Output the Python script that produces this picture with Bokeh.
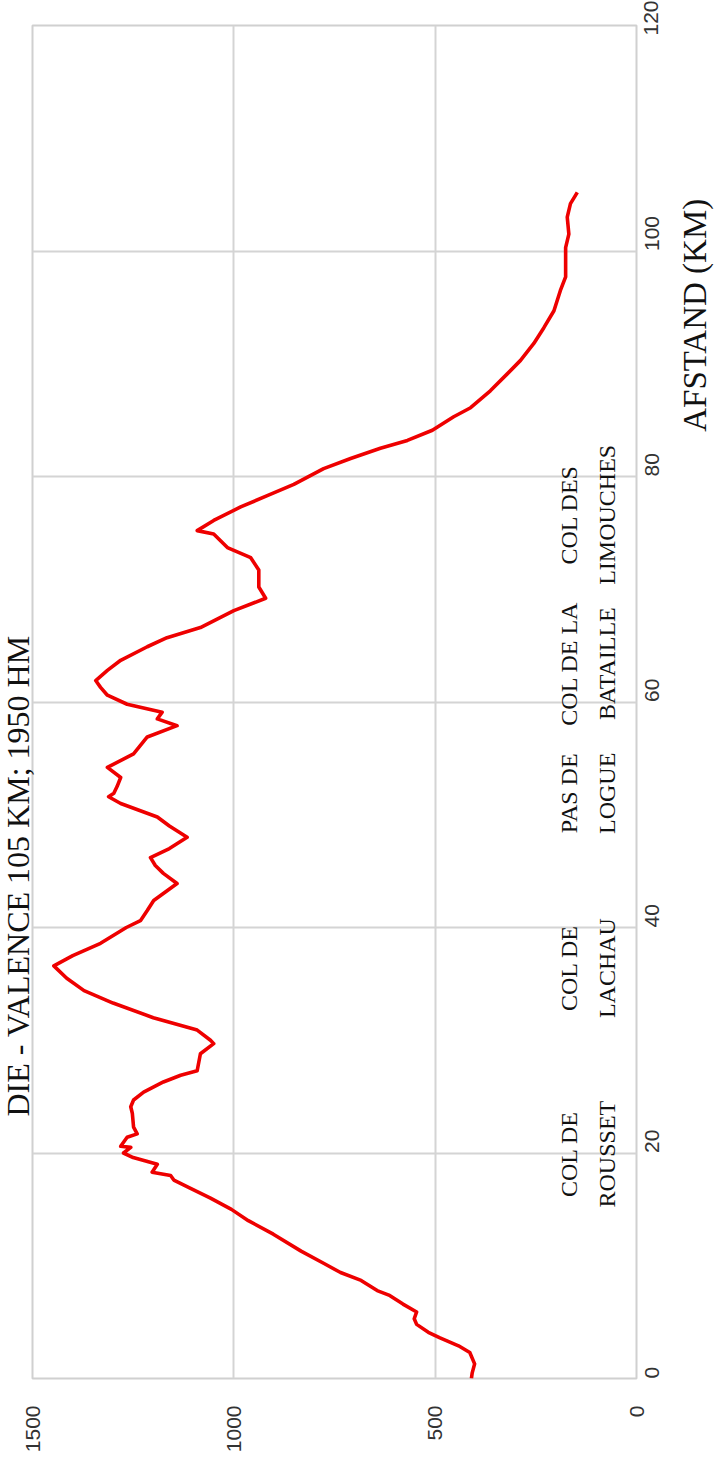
import math
from bokeh.plotting import figure
from bokeh.models import Range1d, Label, FixedTicker
from bokeh.layouts import row
from bokeh.embed import file_html
from bokeh.resources import INLINE

# ---- data ----
distance_km = [0.0, 0.5, 1.3, 2.3, 2.9, 3.6, 4.1, 4.8, 5.3, 5.9,
               6.6, 7.4, 7.8, 8.7, 9.4, 10.2, 11.3, 12.8, 14.0, 15.0,
               16.0, 16.9, 17.6, 18.0, 18.3, 19.0, 19.6, 20.0, 20.5, 20.6,
               21.4, 21.7, 22.3, 23.5, 24.1, 24.7, 25.4, 26.3, 26.9, 27.3,
               28.8, 29.7, 30.0, 30.9, 32.0, 33.3, 34.4, 35.5, 36.6, 37.5,
               38.6, 40.0, 40.6, 41.5, 42.4, 43.9, 44.8, 45.5, 46.2, 47.0,
               48.0, 49.0, 49.8, 51.0, 51.6, 51.9, 52.5, 53.3, 54.2, 55.4,
               56.9, 57.9, 58.5, 59.1, 59.8, 60.6, 61.3, 61.9, 62.8, 63.7,
               64.9, 65.7, 66.6, 68.1, 69.2, 70.2, 71.7, 72.8, 73.7, 74.9,
               75.2, 76.1, 77.3, 78.3, 79.3, 80.7, 81.6, 82.5, 83.2, 84.1,
               85.3, 86.1, 87.6, 89.1, 90.3, 91.8, 93.2, 94.7, 96.5, 97.7,
               100.3, 101.5, 103.0, 104.2, 105.2]
elevation_m = [410, 408, 402, 414, 442, 488, 517, 546, 552, 546,
               580, 615, 644, 684, 735, 776, 833, 902, 964, 1006,
               1058, 1110, 1149, 1157, 1203, 1190, 1250, 1274, 1256, 1281,
               1265, 1240, 1249, 1252, 1256, 1249, 1224, 1175, 1132, 1091,
               1083, 1050, 1058, 1091, 1200, 1300, 1372, 1415, 1447, 1400,
               1331, 1267, 1232, 1215, 1199, 1141, 1175, 1195, 1207, 1160,
               1116, 1160, 1190, 1281, 1311, 1298, 1290, 1281, 1314, 1249,
               1215, 1141, 1190, 1178, 1265, 1314, 1331, 1343, 1314, 1281,
               1215, 1166, 1083, 1000, 921, 938, 938, 958, 1016, 1050,
               1091, 1050, 983, 917, 851, 777, 710, 636, 569, 507,
               454, 412, 363, 321, 288, 255, 230, 205, 189, 176,
               176, 168, 172, 164, 147]

elevation_ticks = [0, 500, 1000, 1500]
distance_ticks = [0, 20, 40, 60, 80, 100, 120]

pass_line1 = ["COL DE", "COL DE", "PAS DE", "COL DE LA", "COL DES"]
pass_line2 = ["ROUSSET", "LACHAU", "LOGUE", "BATAILLE", "LIMOUCHES"]
pass_km = [19.9, 36.4, 51.9, 63.4, 76.6]

title_text = "DIE - VALENCE 105 KM; 1950 HM"
axis_title = "AFSTAND (KM)"
axis_title_km = 94.3

# ---- layout constants (page pixels) ----
H = 1483
RIGHT_W = 39         # strip holding the axis title
MAIN_W = 715 - RIGHT_W
FRAME_L, FRAME_R = 32, 636
BT, BB = 25, 105
serif = "Liberation Serif"
ang = math.pi / 2


def elev_at_page_x(xp):
    return (FRAME_R - xp) * 1500.0 / (FRAME_R - FRAME_L)


# ---- main chart ----
p = figure(width=MAIN_W, height=H, title=title_text, title_location="left",
           x_range=Range1d(1500, 0), y_range=Range1d(0, 120),
           y_axis_location="right", x_axis_location="below",
           output_backend="svg", toolbar_location=None,
           min_border_left=FRAME_L, min_border_right=MAIN_W - FRAME_R,
           min_border_top=BT, min_border_bottom=BB)

p.title.align = "left"
p.title.offset = 262
p.title.standoff = -7
p.title.text_font = serif
p.title.text_font_size = "32px"
p.title.text_font_style = "normal"
p.title.text_color = "#111111"

p.background_fill_color = "white"
p.border_fill_color = "white"
p.outline_line_color = "#d0d0d0"
p.outline_line_width = 2

p.xgrid.ticker = FixedTicker(ticks=elevation_ticks)
p.ygrid.ticker = FixedTicker(ticks=distance_ticks)
for g in (p.xgrid, p.ygrid):
    g.grid_line_color = "#d4d4d4"
    g.grid_line_width = 2

for ax, ticks in ((p.xaxis[0], elevation_ticks), (p.yaxis[0], distance_ticks)):
    ax.ticker = FixedTicker(ticks=ticks)
    ax.axis_line_color = None
    ax.major_tick_line_color = None
    ax.minor_tick_line_color = None
    ax.major_tick_out = 0
    ax.major_tick_in = 0
    ax.major_label_text_font = "Liberation Sans"
    ax.major_label_text_font_size = "21px"
    ax.major_label_text_color = "#333333"
    ax.major_label_orientation = math.pi / 2

p.xaxis[0].major_label_standoff = 27
p.yaxis[0].major_label_standoff = 15

p.line(elevation_m, distance_km, line_color="#ee0000", line_width=3.6,
       line_join="round")

x1 = elev_at_page_x(568)
x2 = elev_at_page_x(606)
for l1, l2, km in zip(pass_line1, pass_line2, pass_km):
    for txt, xx in ((l1, x1), (l2, x2)):
        p.add_layout(Label(x=xx, y=km, text=txt, angle=ang, text_align="center",
                           text_baseline="middle", text_font=serif,
                           text_font_size="24px", text_color="#111111"))

# ---- axis-title strip (right) ----
right = figure(width=RIGHT_W, height=H, x_range=Range1d(0, RIGHT_W),
               y_range=Range1d(0, 120), x_axis_location=None,
               y_axis_location=None, output_backend="svg",
               toolbar_location=None, min_border_left=0, min_border_right=0,
               min_border_top=BT, min_border_bottom=BB)
right.outline_line_color = None
right.background_fill_color = "white"
right.border_fill_color = "white"
right.xgrid.visible = False
right.ygrid.visible = False
right.add_layout(Label(x=18, y=axis_title_km, text=axis_title, angle=ang,
                       text_align="center", text_baseline="middle",
                       text_font=serif, text_font_size="33px",
                       text_color="#111111"))

layout = row(p, right, spacing=0)
open("out.html", "w").write(file_html(layout, INLINE))
